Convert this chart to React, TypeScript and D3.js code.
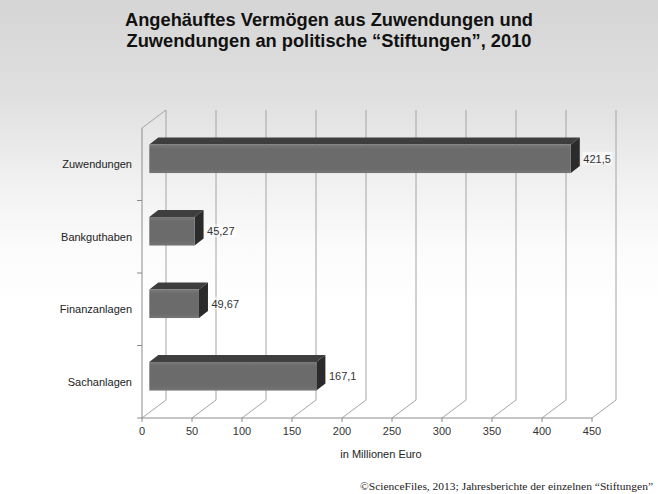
import React from "react";
import * as d3 from "d3";

const categories = ["Zuwendungen", "Bankguthaben", "Finanzanlagen", "Sachanlagen"];
const values = [421.5, 45.27, 49.67, 167.1];
const valueLabels = ["421,5", "45,27", "49,67", "167,1"];
const xTicks = [0, 50, 100, 150, 200, 250, 300, 350, 400, 450];
const titleLines = [
  "Angehäuftes Vermögen aus Zuwendungen und",
  "Zuwendungen an politische \u201cStiftungen\u201d, 2010",
];
const axisTitle = "in Millionen Euro";
const source = "\u00a9ScienceFiles, 2013; Jahresberichte der einzelnen \u201cStiftungen\u201d";

const W = 658;
const H = 494;

export default function App() {
  // front plane geometry
  const x0 = 142;
  const yTop = 128;
  const yBottom = 418;
  const wallDx = 24;
  const wallDy = -18;
  const x = d3.scaleLinear().domain([0, 450]).range([x0, x0 + 450]);
  const y = d3.scaleBand().domain(categories).range([yTop, yBottom]);
  const bw = y.bandwidth();
  // bars placed partway into depth
  const barShiftX = 7.3;
  const barShiftY = -5.5;
  const barH = 28.6;
  const depthDx = 9;
  const depthDy = -7;
  const grid = "#a4a4a4";
  const axisCol = "#8c8c8c";
  const sans = "Arial, 'Liberation Sans', sans-serif";

  return (
    <svg
      width={W}
      height={H}
      style={{ position: "absolute", left: 0, top: 0, display: "block" }}
    >
      <defs>
        <linearGradient id="bg" x1="0" y1="0" x2="0" y2="1">
          <stop offset="0" stopColor="#d5d5d5" />
          <stop offset="0.2" stopColor="#e0e0e0" />
          <stop offset="0.37" stopColor="#f1f1f1" />
          <stop offset="0.5" stopColor="#fbfbfb" />
          <stop offset="0.62" stopColor="#ffffff" />
          <stop offset="1" stopColor="#ffffff" />
        </linearGradient>
        <linearGradient id="front" x1="0" y1="0" x2="0" y2="1">
          <stop offset="0" stopColor="#7a7a7a" />
          <stop offset="0.15" stopColor="#6b6b6b" />
          <stop offset="0.85" stopColor="#6b6b6b" />
          <stop offset="1" stopColor="#767676" />
        </linearGradient>
      </defs>
      <rect x={0} y={0} width={W} height={H} fill="url(#bg)" />

      {/* title */}
      {titleLines.map((t, i) => (
        <text
          key={i}
          x={329}
          y={26 + i * 21}
          textAnchor="middle"
          fontFamily={sans}
          fontWeight="bold"
          fontSize={18.5}
          fill="#111"
          textLength={i === 0 ? 408 : 405}
          lengthAdjust="spacingAndGlyphs"
        >
          {t}
        </text>
      ))}

      {/* back wall gridlines */}
      {xTicks.map((t) => (
        <line
          key={"g" + t}
          x1={x(t) + wallDx}
          x2={x(t) + wallDx}
          y1={yTop + wallDy}
          y2={yBottom + wallDy}
          stroke={grid}
          strokeWidth={1}
        />
      ))}
      {/* floor diagonals */}
      {xTicks.map((t) => (
        <line
          key={"f" + t}
          x1={x(t)}
          x2={x(t) + wallDx}
          y1={yBottom}
          y2={yBottom + wallDy}
          stroke={grid}
          strokeWidth={1}
        />
      ))}
      {/* left wall top diagonal */}
      <line
        x1={x0}
        y1={yTop}
        x2={x0 + wallDx}
        y2={yTop + wallDy}
        stroke={grid}
      />
      {/* left axis */}
      <line x1={x0} x2={x0} y1={yTop} y2={yBottom} stroke={axisCol} />
      {categories.map((c, i) => (
        <line
          key={"lt" + c}
          x1={x0 - 5}
          x2={x0}
          y1={(y(c) as number) + bw}
          y2={(y(c) as number) + bw}
          stroke={axisCol}
        />
      ))}
      {/* bottom axis */}
      <line x1={x0} x2={x(450)} y1={yBottom} y2={yBottom} stroke={axisCol} />
      {xTicks.map((t) => (
        <g key={"bt" + t}>
          <line
            x1={x(t)}
            x2={x(t)}
            y1={yBottom}
            y2={yBottom + 4}
            stroke={axisCol}
          />
          <text
            x={x(t)}
            y={435}
            textAnchor="middle"
            fontFamily={sans}
            fontSize={11}
            fill="#333"
          >
            {t}
          </text>
        </g>
      ))}

      {/* category labels */}
      {categories.map((c) => (
        <text
          key={"cl" + c}
          x={132}
          y={(y(c) as number) + bw / 2 + 4}
          textAnchor="end"
          fontFamily={sans}
          fontSize={11}
          fill="#222"
        >
          {c}
        </text>
      ))}

      {/* bars */}
      {categories.map((c, i) => {
        const cy = (y(c) as number) + bw / 2 + barShiftY;
        const top = cy - barH / 2;
        const bot = cy + barH / 2;
        const left = x(0) + barShiftX;
        const right = x(values[i]) + barShiftX;
        const topFace = [
          [left, top],
          [right, top],
          [right + depthDx, top + depthDy],
          [left + depthDx, top + depthDy],
        ];
        const sideFace = [
          [right, top],
          [right + depthDx, top + depthDy],
          [right + depthDx, bot + depthDy],
          [right, bot],
        ];
        const pts = (p: number[][]) => p.map((q) => q.join(",")).join(" ");
        const lx = right + depthDx + 3.5;
        return (
          <g key={"b" + c}>
            <polygon points={pts(topFace)} fill="#3e3e3e" />
            <polygon points={pts(sideFace)} fill="#2b2b2b" />
            <rect
              x={left}
              y={top}
              width={right - left}
              height={barH}
              fill="url(#front)"
            />
            <rect
              x={lx - 1}
              y={cy - 7}
              width={valueLabels[i].length * 5.6 + 2}
              height={13}
              fill="#ffffff"
              opacity={0.55}
            />
            <text
              x={lx}
              y={cy + 4}
              fontFamily={sans}
              fontSize={11}
              fill="#333"
            >
              {valueLabels[i]}
            </text>
          </g>
        );
      })}

      {/* axis title */}
      <text
        x={381}
        y={458}
        textAnchor="middle"
        fontFamily={sans}
        fontSize={11}
        fill="#222"
      >
        {axisTitle}
      </text>

      {/* source */}
      <text
        x={360}
        y={490}
        fontFamily="'Liberation Serif', 'DejaVu Serif', serif"
        fontSize={11}
        fill="#222"
        textLength={293}
        lengthAdjust="spacingAndGlyphs"
      >
        {source}
      </text>
    </svg>
  );
}
